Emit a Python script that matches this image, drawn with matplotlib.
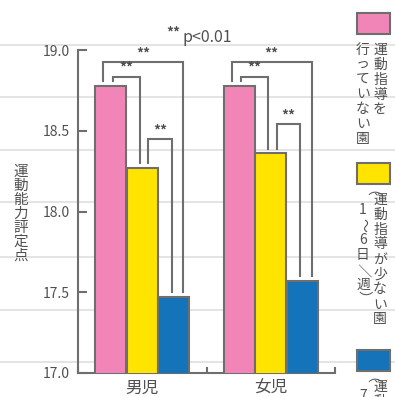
import numpy as np
import matplotlib.pyplot as plt
from matplotlib.lines import Line2D
from matplotlib.patches import Rectangle

plt.rcParams['font.family'] = ['Noto Sans CJK JP', 'DejaVu Sans']

groups = ['男児', '女児']
none_vals = [18.78, 18.78]   # 運動指導を行っていない園
few_vals = [18.27, 18.36]    # 運動指導が少ない園（1～6日／週）
many_vals = [17.47, 17.57]   # 運動指導を毎日行っている園（7日／週）
yticks = [17.0, 17.5, 18.0, 18.5, 19.0]
ylabel = '運動能力評定点'
legend_labels = [
    ['運動指導を', '行っていない園'],
    ['運動指導が少ない園', '（1～6日／週）'],
    ['運動指導を毎日', '（7日／週）'],
]

colors = ['#f285b8', '#ffe400', '#1473b9']
edge = '#6e6e6e'
gray = '#505050'

W, H = 395, 397
fig = plt.figure(figsize=(W / 100, H / 100), dpi=100)


def px(x, y):
    return x / W, 1 - y / H


# notebook style rule lines behind everything
for yy in [45, 97, 150, 202, 257, 310, 362]:
    fig.add_artist(Line2D([0, 1], [1 - yy / H] * 2, color='#e2e2e2', lw=1.3, zorder=0))

ax = fig.add_axes([78 / W, (H - 373) / H, 257 / W, 323 / H])
ax.set_facecolor('none')
ax.set_zorder(2)

x = np.arange(len(groups))
off = 0.245
wid = 0.24
series = [none_vals, few_vals, many_vals]
for i, vals in enumerate(series):
    ax.bar(x + (i - 1) * off, vals, width=wid, bottom=0, color=colors[i],
           edgecolor=edge, linewidth=1.5, zorder=3)

ax.set_xlim(-0.5, 1.5)
ax.set_ylim(17.0, 19.0)
for s in ['top', 'right']:
    ax.spines[s].set_visible(False)
for s in ['left', 'bottom']:
    ax.spines[s].set_color(edge)
    ax.spines[s].set_linewidth(1.5)

ax.set_yticks(yticks)
ax.set_yticklabels([f'{v:.1f}' for v in yticks])
ax.tick_params(axis='y', direction='in', length=6.5, width=1.5, color=edge,
               labelsize=10, labelcolor=gray, pad=6)
ax.set_xticks(x)
ax.set_xticklabels(groups)
ax.tick_params(axis='x', length=0, labelsize=12, labelcolor=gray, pad=5)
ax.set_xticks([-0.5, 0.5, 1.5], minor=True)
ax.tick_params(axis='x', which='minor', direction='in', length=4.5, width=1.5, color=edge)


def bracket(x0, x1, y, y0, y1):
    ax.plot([x0, x0, x1, x1], [y0, y, y, y1], color=edge, lw=1.5,
            solid_joinstyle='miter', zorder=4, clip_on=False)
    ax.text((x0 + x1) / 2, y + 0.01, '**', ha='center', va='bottom',
            fontsize=10, fontweight='bold', color=gray, zorder=5)


gap = 0.03
for g in range(len(groups)):
    cp, cy, cb = x[g] - off, x[g], x[g] + off
    top = none_vals[g]
    # outer: none vs many
    yo = top + 0.145
    bracket(cp - 0.06, cb + 0.075, yo, top + gap, many_vals[g] + gap)
    # none vs few
    yi = top + 0.055
    bracket(cp + 0.015, cy - 0.02, yi, top + gap, few_vals[g] + gap)
    # few vs many
    yf = few_vals[g] + 0.18
    bracket(cy + 0.045, cb - 0.015, yf, few_vals[g] + gap, many_vals[g] + gap)

# significance note
fig.text(*px(173, 33), '**', ha='center', va='center', fontsize=10,
         fontweight='bold', color=gray)
fig.text(*px(183, 37), 'p<0.01', ha='left', va='center', fontsize=11.5, color=gray)

# vertical y label
for k, ch in enumerate(ylabel):
    fig.text(*px(21, 172 + k * 14), ch, ha='center', va='center',
             fontsize=10.5, color=gray)


def vtext(cx, ytop, s, size=10):
    yy = ytop
    for ch in s:
        if yy > H + 5:
            break
        if ch in '（）':
            adv, rot = 10, -90
        elif ch in '～／':
            adv, rot = 15, -90
        elif ch in 'っ':
            adv, rot = 14, 0
        else:
            adv, rot = 15, 0
        fig.text(*px(cx, yy + adv / 2), ch, ha='center', va='center',
                 rotation=rot, fontsize=size, color=gray)
        yy += adv


box_tops = [13, 163, 350]
for i, (lab, bt) in enumerate(zip(legend_labels, box_tops)):
    fig.add_artist(Rectangle(px(357, bt + 21), 33 / W, 21 / H, facecolor=colors[i],
                             edgecolor=edge, lw=1.5, zorder=3))
    vtext(380, bt + 29, lab[0])
    vtext(363, bt + 29, lab[1])

fig.savefig('out.png', dpi=100)
